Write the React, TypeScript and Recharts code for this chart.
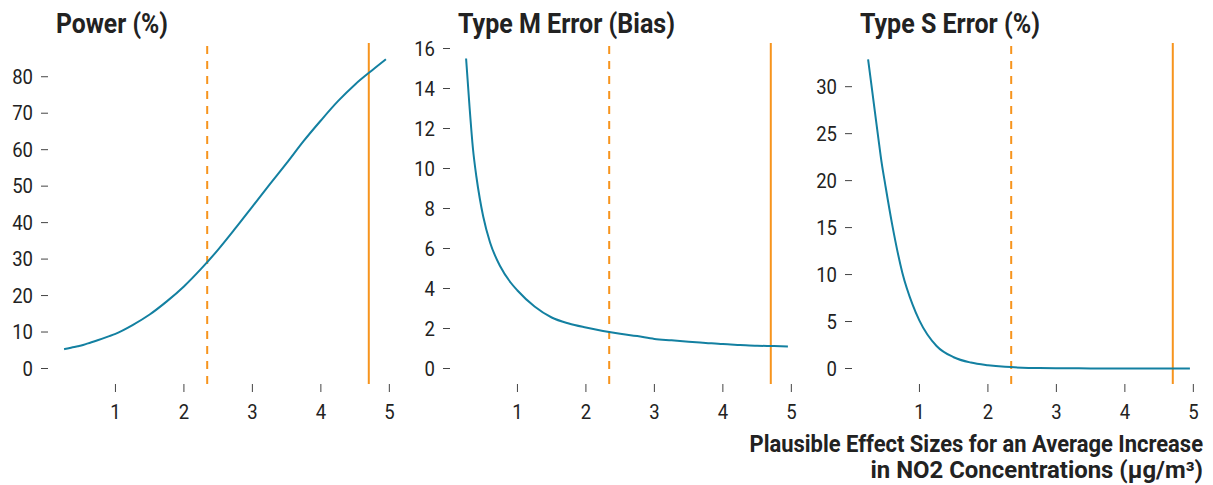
import React from 'react'
import { LineChart, Line, XAxis, YAxis, ReferenceLine } from 'recharts'

// effect sizes (µg/m³)
const effectSizes = [
  0.25, 0.3, 0.35, 0.4, 0.45, 0.5, 0.6, 0.75, 0.9, 1, 1.25, 1.5, 1.75, 2, 2.25, 2.5,
  2.75, 3, 3.25, 3.5, 3.75, 4, 4.25, 4.5, 4.75, 4.95,
]
const powerValues = [
  5.3, 5.5, 5.7, 5.9, 6.1, 6.3, 6.9, 7.8, 8.8, 9.5, 11.9, 14.8, 18.4, 22.5, 27.3, 32.6,
  38.4, 44.4, 50.4, 56.3, 62.4, 68.0, 73.3, 77.9, 81.8, 84.8,
]
const typeMValues = [
  15.5, 13.1, 11.0, 9.6, 8.5, 7.6, 6.3, 5.1, 4.3, 3.9, 3.1, 2.55, 2.25, 2.05, 1.88, 1.74,
  1.62, 1.48, 1.41, 1.34, 1.28, 1.22, 1.18, 1.14, 1.12, 1.1,
]
const typeSValues = [
  32.9, 30.1, 27.3, 24.5, 21.8, 19.6, 15.4, 10.2, 6.8, 5.1, 2.4, 1.2, 0.63, 0.35, 0.18, 0.09,
  0.05, 0.03, 0.02, 0.01, 0.01, 0, 0, 0, 0, 0,
]

const xTicks = [1, 2, 3, 4, 5]
const powerTicks = [0, 10, 20, 30, 40, 50, 60, 70, 80]
const typeMTicks = [0, 2, 4, 6, 8, 10, 12, 14, 16]
const typeSTicks = [0, 5, 10, 15, 20, 25, 30]

const panelTitles = ['Power (%)', 'Type M Error (Bias)', 'Type S Error (%)']
const xAxisTitle = ['Plausible Effect Sizes for an Average Increase', 'in NO2 Concentrations (µg/m³)']

const lowerEffect = 2.34
const upperEffect = 4.7

const BLUE = '#1380A1'
const ORANGE = '#F7941D'
const FONT = 'Roboto, sans-serif'

const PANEL_W = 402
const CHART_H = 485

const panels = [
  { values: powerValues, ticks: powerTicks, domain: [-4.25, 89.25], titleWidth: 112 },
  { values: typeMValues, ticks: typeMTicks, domain: [-0.775, 16.275], titleWidth: 217 },
  { values: typeSValues, ticks: typeSTicks, domain: [-1.65, 34.65], titleWidth: 180 },
]

// narrow digits, like a condensed face
const CondensedTick = (props: any) => {
  const { x, y, payload, textAnchor, verticalAnchor } = props
  const label = String(payload.value)
  const dy = verticalAnchor === 'start' ? '0.71em' : '0.355em'
  return (
    <text
      x={x}
      y={y}
      dy={dy}
      textAnchor={textAnchor}
      fontFamily={FONT}
      fontSize={20}
      fill="#222"
      textLength={label.length * 10.4}
      lengthAdjust="spacingAndGlyphs"
    >
      {label}
    </text>
  )
}

function Panel({ values, ticks, domain }: { values: number[]; ticks: number[]; domain: number[] }) {
  const data = effectSizes.map((x, i) => ({ x, y: values[i] }))
  return (
    <LineChart
      width={PANEL_W}
      height={CHART_H}
      data={data}
      margin={{ top: 43, right: 0, bottom: 61, left: 0 }}
    >
      <XAxis
        dataKey="x"
        type="number"
        domain={[0.015, 5.185]}
        ticks={xTicks}
        allowDataOverflow
        axisLine={false}
        tickLine={{ stroke: '#444', strokeWidth: 1 }}
        tickSize={8}
        tickMargin={13}
        height={40}
        tick={<CondensedTick />}
      />
      <YAxis
        type="number"
        domain={domain}
        ticks={ticks}
        allowDataOverflow
        axisLine={false}
        tickLine={{ stroke: '#444', strokeWidth: 1 }}
        tickSize={7}
        tickMargin={8}
        width={48}
        tick={<CondensedTick />}
      />
      <ReferenceLine x={lowerEffect} stroke={ORANGE} strokeWidth={2} strokeDasharray="8 7" />
      <ReferenceLine x={upperEffect} stroke={ORANGE} strokeWidth={2} />
      <Line
        type="monotone"
        dataKey="y"
        stroke={BLUE}
        strokeWidth={2}
        dot={false}
        isAnimationActive={false}
      />
    </LineChart>
  )
}

export default function App() {
  return (
    <div style={{ position: 'absolute', left: 0, top: 0, width: 1213, height: 485, background: '#fff' }}>
      {panels.map((p, i) => (
        <div key={i} style={{ position: 'absolute', left: i * PANEL_W, top: 0 }}>
          <Panel values={p.values} ticks={p.ticks} domain={p.domain} />
        </div>
      ))}
      <svg
        width={1213}
        height={485}
        style={{ position: 'absolute', left: 0, top: 0, pointerEvents: 'none' }}
      >
        {panelTitles.map((t, i) => (
          <text
            key={t}
            x={i * PANEL_W + 56}
            y={33}
            fontFamily={FONT}
            fontWeight={700}
            fontSize={27}
            fill="#222"
            textLength={panels[i].titleWidth}
            lengthAdjust="spacingAndGlyphs"
          >
            {t}
          </text>
        ))}
        <g transform="translate(1203 452) scale(0.955 1)">
          <text x={0} y={0} textAnchor="end" fontFamily={FONT} fontWeight={700} fontSize={23} fill="#222">
            {xAxisTitle[0]}
          </text>
        </g>
        <g transform="translate(1203 478) scale(1.04 1)">
          <text x={0} y={0} textAnchor="end" fontFamily={FONT} fontWeight={700} fontSize={23} fill="#222">
            {xAxisTitle[1]}
          </text>
        </g>
      </svg>
    </div>
  )
}
